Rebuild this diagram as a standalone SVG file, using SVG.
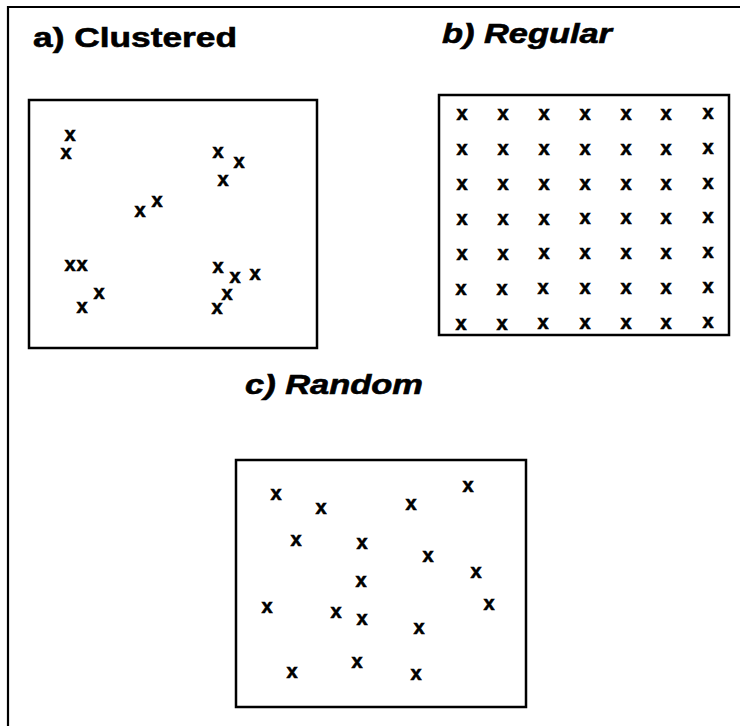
<svg xmlns="http://www.w3.org/2000/svg" width="740" height="726" viewBox="0 0 740 726">
<style>
.frame{fill:none;stroke:#000;stroke-width:2.2}
.box{fill:none;stroke:#000;stroke-width:2.5}
.title{font-family:"Liberation Sans",Arial,sans-serif;font-weight:bold;font-size:28px;fill:#000;stroke:#000;stroke-width:0.6}
.it{font-style:italic}
.m{font-family:"Liberation Sans",Arial,sans-serif;font-weight:bold;font-size:20px;fill:#000;stroke:#000;stroke-width:0.6;text-anchor:middle}
</style>
<rect width="740" height="726" fill="#fff"/>
<path class="frame" d="M8,726 V7 H740"/>
<g id="clustered">
<text class="title" x="33" y="47" textLength="204" lengthAdjust="spacingAndGlyphs">a) Clustered</text>
<rect class="box" x="29" y="100" width="288" height="248"/>
<g transform="translate(0,6)">
<text class="m" x="70" y="135">x</text>
<text class="m" x="66" y="153">x</text>
<text class="m" x="218" y="152">x</text>
<text class="m" x="239" y="162">x</text>
<text class="m" x="223" y="180">x</text>
<text class="m" x="140" y="211">x</text>
<text class="m" x="157" y="201">x</text>
<text class="m" x="70" y="265">x</text>
<text class="m" x="82" y="265">x</text>
<text class="m" x="99" y="293">x</text>
<text class="m" x="82" y="307">x</text>
<text class="m" x="218" y="267">x</text>
<text class="m" x="235" y="277">x</text>
<text class="m" x="255" y="274">x</text>
<text class="m" x="227" y="294">x</text>
<text class="m" x="217" y="308">x</text>
</g>
</g>
<g id="regular">
<text class="title it" x="442" y="43" textLength="170" lengthAdjust="spacingAndGlyphs">b) Regular</text>
<rect class="box" x="439" y="95" width="290" height="240"/>
<g transform="translate(0,7)">
<text class="m" x="462" y="113">x</text><text class="m" x="503" y="113">x</text><text class="m" x="544" y="113">x</text><text class="m" x="585" y="113">x</text><text class="m" x="626" y="113">x</text><text class="m" x="666" y="113">x</text><text class="m" x="708" y="112">x</text>
<text class="m" x="462" y="148">x</text><text class="m" x="503" y="148">x</text><text class="m" x="544" y="148">x</text><text class="m" x="585" y="148">x</text><text class="m" x="626" y="148">x</text><text class="m" x="666" y="148">x</text><text class="m" x="708" y="147">x</text>
<text class="m" x="462" y="183">x</text><text class="m" x="503" y="183">x</text><text class="m" x="544" y="183">x</text><text class="m" x="585" y="183">x</text><text class="m" x="626" y="183">x</text><text class="m" x="666" y="183">x</text><text class="m" x="708" y="182">x</text>
<text class="m" x="462" y="218">x</text><text class="m" x="503" y="218">x</text><text class="m" x="544" y="218">x</text><text class="m" x="585" y="217">x</text><text class="m" x="626" y="217">x</text><text class="m" x="666" y="217">x</text><text class="m" x="708" y="216">x</text>
<text class="m" x="462" y="253">x</text><text class="m" x="503" y="253">x</text><text class="m" x="544" y="252">x</text><text class="m" x="585" y="252">x</text><text class="m" x="626" y="252">x</text><text class="m" x="666" y="252">x</text><text class="m" x="708" y="251">x</text>
<text class="m" x="461" y="288">x</text><text class="m" x="502" y="288">x</text><text class="m" x="543" y="287">x</text><text class="m" x="585" y="287">x</text><text class="m" x="626" y="287">x</text><text class="m" x="666" y="287">x</text><text class="m" x="708" y="286">x</text>
<text class="m" x="461" y="323">x</text><text class="m" x="502" y="323">x</text><text class="m" x="543" y="322">x</text><text class="m" x="585" y="322">x</text><text class="m" x="626" y="322">x</text><text class="m" x="666" y="322">x</text><text class="m" x="708" y="321">x</text>
</g>
</g>
<g id="random">
<text class="title it" x="245" y="394" textLength="178" lengthAdjust="spacingAndGlyphs">c) Random</text>
<rect class="box" x="236" y="460" width="290" height="247"/>
<g transform="translate(0,6)">
<text class="m" x="276" y="494">x</text>
<text class="m" x="321" y="508">x</text>
<text class="m" x="411" y="504">x</text>
<text class="m" x="468" y="486">x</text>
<text class="m" x="296" y="540">x</text>
<text class="m" x="362" y="543">x</text>
<text class="m" x="428" y="556">x</text>
<text class="m" x="476" y="572">x</text>
<text class="m" x="361" y="581">x</text>
<text class="m" x="267" y="607">x</text>
<text class="m" x="336" y="612">x</text>
<text class="m" x="362" y="619">x</text>
<text class="m" x="489" y="604">x</text>
<text class="m" x="419" y="628">x</text>
<text class="m" x="292" y="672">x</text>
<text class="m" x="357" y="662">x</text>
<text class="m" x="416" y="674">x</text>
</g>
</g>
</svg>
